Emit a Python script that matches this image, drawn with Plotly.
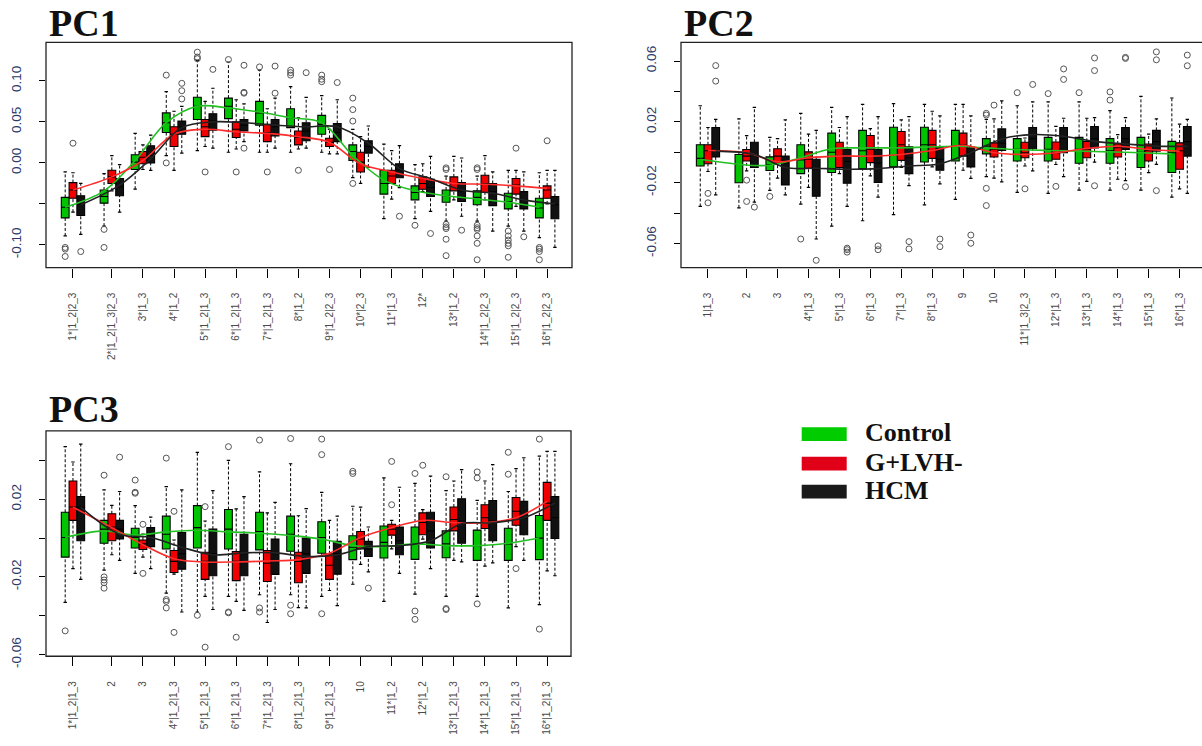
import plotly.graph_objects as go

# ---------------- tick labels ----------------
PC1_LABELS = ["1*|1_2|2_3", "2*|1_2|1_3|2_3", "3*|1_3", "4*|1_2", "5*|1_2|1_3", "6*|1_2|1_3",
              "7*|1_2|1_3", "8*|1_2", "9*|1_2|2_3", "10*|2_3", "11*|1_3", "12*", "13*|1_2",
              "14*|1_2|2_3", "15*|1_2|2_3", "16*|1_2|2_3"]
PC2_LABELS = ["1|1_3", "2", "3", "4*|1_3", "5*|1_3", "6*|1_3", "7*|1_3", "8*|1_3", "9", "10",
              "11*|1_3|2_3", "12*|1_3", "13*|1_3", "14*|1_3", "15*|1_3", "16*|1_3"]
PC3_LABELS = ["1*|1_2|1_3", "2", "3", "4*|1_2|1_3", "5*|1_2|1_3", "6*|1_2|1_3", "7*|1_2|1_3",
              "8*|1_2|1_3", "9*|1_2|1_3", "10", "11*|1_2", "12*|1_2", "13*|1_2|1_3",
              "14*|1_2|1_3", "15*|1_2|1_3", "16*|1_2|1_3"]

GROUPS = ["Control", "G+LVH-", "HCM"]

# ---------------- box stats: (lower whisker, q1, median, q3, upper whisker) ----------------
PC1_CONTROL = [(-0.089, -0.067, -0.054, -0.042, -0.011), (-0.077, -0.049, -0.041, -0.033, -0.013),
               (-0.032, -0.008, 0.001, 0.010, 0.036), (0.009, 0.037, 0.049, 0.061, 0.087),
               (0.015, 0.053, 0.069, 0.080, 0.125), (0.013, 0.054, 0.069, 0.079, 0.123),
               (0.013, 0.046, 0.061, 0.075, 0.113), (0.013, 0.043, 0.055, 0.066, 0.093),
               (0.013, 0.035, 0.047, 0.058, 0.082), (-0.018, 0.003, 0.014, 0.022, 0.041),
               (-0.068, -0.038, -0.025, -0.009, 0.023), (-0.068, -0.045, -0.036, -0.028, -0.002),
               (-0.071, -0.048, -0.040, -0.033, -0.016), (-0.071, -0.051, -0.042, -0.034, -0.016),
               (-0.077, -0.056, -0.047, -0.037, -0.009), (-0.091, -0.067, -0.055, -0.043, -0.012)]
PC1_GLVH = [(-0.060, -0.043, -0.033, -0.024, -0.012), (-0.034, -0.025, -0.017, -0.009, 0.009),
            (-0.008, -0.001, 0.007, 0.014, 0.022), (-0.009, 0.020, 0.035, 0.044, 0.063),
            (0.020, 0.032, 0.044, 0.053, 0.075), (0.017, 0.031, 0.041, 0.050, 0.077),
            (0.013, 0.026, 0.037, 0.047, 0.066), (0.017, 0.022, 0.031, 0.039, 0.055),
            (0.011, 0.020, 0.025, 0.030, 0.041), (-0.025, -0.011, 0.001, 0.013, 0.032),
            (-0.044, -0.025, -0.016, -0.009, 0.015), (-0.035, -0.032, -0.025, -0.017, -0.001),
            (-0.045, -0.034, -0.025, -0.017, 0.008), (-0.045, -0.036, -0.025, -0.015, 0.009),
            (-0.053, -0.038, -0.027, -0.019, -0.009), (-0.050, -0.043, -0.033, -0.028, -0.009)]
PC1_HCM = [(-0.087, -0.064, -0.050, -0.040, -0.025), (-0.060, -0.040, -0.029, -0.019, -0.002),
           (-0.009, 0.000, 0.009, 0.021, 0.034), (0.012, 0.035, 0.044, 0.051, 0.069),
           (0.018, 0.040, 0.051, 0.060, 0.091), (0.026, 0.039, 0.046, 0.053, 0.072),
           (0.018, 0.033, 0.044, 0.053, 0.079), (0.018, 0.027, 0.039, 0.049, 0.080),
           (0.011, 0.026, 0.037, 0.048, 0.077), (-0.005, 0.012, 0.020, 0.027, 0.045),
           (-0.030, -0.018, -0.009, -0.001, 0.021), (-0.059, -0.041, -0.030, -0.020, 0.008),
           (-0.065, -0.047, -0.034, -0.024, 0.006), (-0.083, -0.052, -0.035, -0.025, -0.011),
           (-0.083, -0.056, -0.045, -0.035, -0.011), (-0.103, -0.068, -0.051, -0.041, -0.009)]

PC1_CONTROL_OUT = [[-0.103, -0.105, -0.114], [-0.081, -0.103], [], [0.107, 0.0], [0.135, 0.129, 0.127],
                   [0.126], [0.117], [0.113, 0.110, 0.107], [0.107, 0.102, 0.099],
                   [0.079, 0.065, 0.051, -0.025], [], [-0.076],
                   [-0.006, -0.008, -0.075, -0.078, -0.080, -0.093, -0.113],
                   [-0.006, -0.008, -0.076, -0.079, -0.081, -0.089, -0.098, -0.118],
                   [-0.083, -0.089, -0.094, -0.098, -0.101, -0.115], [-0.103, -0.105, -0.108, -0.118]]
PC1_GLVH_OUT = [[0.024], [], [], [], [-0.011], [-0.011], [-0.011], [-0.009], [-0.008], [], [], [], [], [],
                [0.018], [0.027]]
PC1_HCM_OUT = [[-0.108], [], [], [0.097, 0.088, 0.078], [0.114], [0.119, 0.086, 0.085, 0.018],
               [0.118, 0.085], [0.110], [0.098], [], [-0.065], [-0.086], [-0.082], [], [-0.090], []]

PC1_CONTROL_LINE = [-0.054, -0.034, 0.003, 0.049, 0.069, 0.067, 0.062, 0.055, 0.049, 0.009, -0.021,
                    -0.034, -0.040, -0.044, -0.048, -0.054]
PC1_GLVH_LINE = [-0.033, -0.017, 0.003, 0.035, 0.041, 0.038, 0.036, 0.032, 0.025, -0.001, -0.011,
                 -0.019, -0.025, -0.026, -0.028, -0.031]
PC1_HCM_LINE = [-0.051, -0.027, 0.005, 0.043, 0.050, 0.049, 0.046, 0.044, 0.044, 0.024, -0.007,
                -0.019, -0.033, -0.037, -0.045, -0.050]

PC2_CONTROL = [(-0.0356, -0.009, -0.004, 0.005, 0.0306), (-0.0365, -0.020, -0.008, -0.0014, 0.022),
               (-0.025, -0.012, -0.008, -0.003, 0.0098), (-0.034, -0.014, -0.005, 0.005, 0.0256),
               (-0.0485, -0.0133, 0.0, 0.0126, 0.0295), (-0.045, -0.0107, 0.001, 0.0144, 0.0315),
               (-0.041, -0.0096, 0.003, 0.0165, 0.032), (-0.0345, -0.0064, 0.005, 0.0165, 0.0315),
               (-0.031, -0.0057, 0.004, 0.0144, 0.0315), (-0.016, -0.001, 0.004, 0.009, 0.0217),
               (-0.0263, -0.0057, 0.002, 0.009, 0.0306), (-0.027, -0.0057, 0.002, 0.0098, 0.0332),
               (-0.0248, -0.0072, 0.002, 0.0098, 0.0332), (-0.0248, -0.0072, 0.001, 0.009, 0.0274),
               (-0.0248, -0.010, 0.0, 0.0098, 0.0368), (-0.0295, -0.0133, -0.0003, 0.0072, 0.0357)]
PC2_GLVH = [(-0.0126, -0.0075, 0.001, 0.005, 0.0163), (-0.0122, -0.0057, -0.0025, 0.0018, 0.011),
            (-0.017, -0.0075, -0.0025, 0.0023, 0.009), (-0.023, -0.0105, -0.0046, 0.0003, 0.012),
            (-0.014, -0.010, -0.0025, 0.0066, 0.0163), (-0.0155, -0.0068, 0.002, 0.011, 0.0155),
            (-0.010, -0.0053, 0.005, 0.0137, 0.0213), (-0.0096, -0.004, 0.005, 0.0144, 0.027),
            (-0.0118, -0.0025, 0.005, 0.0126, 0.0315), (-0.017, -0.0031, 0.002, 0.0062, 0.022),
            (-0.009, -0.0036, -0.0003, 0.0066, 0.0094), (-0.008, -0.0046, -0.0003, 0.0068, 0.017),
            (-0.0191, -0.0036, 0.002, 0.0072, 0.0224), (-0.0177, -0.0031, 0.003, 0.0055, 0.0116),
            (-0.0133, -0.0057, 0.001, 0.0055, 0.012), (-0.024, -0.0111, 0.001, 0.0062, 0.0185)]
PC2_HCM = [(-0.028, -0.0031, 0.001, 0.0163, 0.0217), (-0.0328, -0.010, -0.0014, 0.0066, 0.0295),
           (-0.028, -0.0215, -0.007, -0.0025, 0.0213), (-0.057, -0.0289, -0.011, -0.0046, 0.0144),
           (-0.0356, -0.0203, -0.006, 0.0018, 0.0234), (-0.0295, -0.0198, -0.007, 0.0018, 0.0234),
           (-0.0219, -0.014, -0.0036, 0.0036, 0.0234), (-0.0208, -0.0118, -0.0046, 0.003, 0.0239),
           (-0.0172, -0.0096, -0.0003, 0.0034, 0.0239), (-0.0194, 0.0012, 0.006, 0.0154, 0.0338),
           (-0.0122, 0.0023, 0.009, 0.0163, 0.0332), (-0.016, -0.0003, 0.009, 0.0163, 0.0224),
           (-0.0064, 0.0029, 0.009, 0.017, 0.0228), (-0.0186, 0.0018, 0.009, 0.0163, 0.0228),
           (-0.0079, 0.0008, 0.007, 0.0144, 0.022), (-0.027, -0.0025, 0.007, 0.017, 0.0217)]

PC2_CONTROL_OUT = [[], [], [-0.029], [-0.057], [], [], [], [], [], [0.0256, 0.0245, -0.0237, -0.035],
                   [0.0392], [0.0386], [0.0392], [0.0397, 0.0343], [], []]
PC2_GLVH_OUT = [[-0.027, -0.0332], [-0.0183, -0.0323], [], [], [], [], [], [], [], [0.031],
                [-0.024], [-0.0224], [], [], [], []]
PC2_HCM_OUT = [[0.057, 0.0468], [-0.036], [], [-0.071], [-0.063, -0.064, -0.0656], [-0.0615, -0.064],
               [-0.0587, -0.0635], [-0.057, -0.062], [-0.0544, -0.0598], [], [0.0446], [0.0548, 0.0479],
               [0.062, 0.0537, -0.022], [0.0624, 0.0617, -0.0226], [0.066, 0.0608, -0.0252],
               [0.0639, 0.0569]]

PC2_CONTROL_LINE = [-0.0046, -0.0079, -0.0085, -0.0036, 0.0023, 0.0029, 0.0029, 0.0034, 0.004, 0.0029,
                    0.0018, 0.0012, 0.0008, 0.0003, -0.0003, -0.001]
PC2_GLVH_LINE = [0.0012, -0.0003, -0.0062, -0.0036, -0.0025, -0.0025, -0.0014, 0.0012, 0.0046, -0.0003,
                 -0.0014, -0.0003, 0.0025, 0.004, 0.0018, 0.0008]
PC2_HCM_LINE = [0.0008, -0.0014, -0.010, -0.0105, -0.0111, -0.0107, -0.009, -0.0075, -0.0003, 0.0088,
                0.0116, 0.0105, 0.0072, 0.0055, 0.004, 0.004]

PC3_CONTROL = [(-0.0331, -0.0098, 0.0003, 0.0133, 0.0471), (-0.0165, -0.0027, 0.0046, 0.0091, 0.0248),
               (-0.0182, -0.0051, 0.0003, 0.0051, 0.0167), (-0.0284, -0.0056, 0.002, 0.0113, 0.0265),
               (-0.0381, -0.0051, 0.0054, 0.0167, 0.0442), (-0.030, -0.0056, 0.0046, 0.0147, 0.040),
               (-0.0292, -0.0061, 0.0034, 0.0133, 0.0341), (-0.0292, -0.0068, 0.002, 0.0113, 0.0383),
               (-0.030, -0.0078, 0.0003, 0.0084, 0.0235), (-0.0238, -0.0111, -0.0047, 0.0012, 0.0164),
               (-0.0326, -0.0103, -0.0022, 0.0062, 0.031), (-0.0289, -0.011, -0.003, 0.0057, 0.0282),
               (-0.030, -0.0101, -0.003, 0.0037, 0.0245), (-0.030, -0.0115, -0.0039, 0.0041, 0.0194),
               (-0.036, -0.0115, -0.003, 0.0051, 0.024), (-0.0343, -0.0111, 0.0, 0.0116, 0.0422)]
PC3_GLVH = [(-0.0157, 0.0091, 0.016, 0.0294, 0.0392), (-0.0086, -0.0014, 0.0057, 0.0125, 0.0169),
            (-0.0098, -0.0059, -0.003, -0.001, 0.002), (-0.0186, -0.0177, -0.012, -0.0064, -0.001),
            (-0.030, -0.0213, -0.012, -0.0073, 0.0088), (-0.0326, -0.0219, -0.012, -0.0069, 0.015),
            (-0.0435, -0.0224, -0.013, -0.0064, 0.013), (-0.0358, -0.023, -0.012, -0.0073, 0.0115),
            (-0.027, -0.0213, -0.014, -0.0081, 0.0091), (-0.0135, -0.0056, -0.0005, 0.0034, 0.0159),
            (-0.0056, 0.0015, 0.0046, 0.0071, 0.0091), (-0.0005, 0.0017, 0.008, 0.013, 0.0147),
            (-0.0115, 0.0037, 0.0096, 0.016, 0.0294), (-0.0145, 0.0049, 0.0105, 0.0172, 0.0294),
            (-0.0044, 0.0066, 0.0138, 0.0209, 0.0358), (-0.0169, 0.0091, 0.018, 0.0287, 0.0447)]
PC3_HCM = [(-0.0213, -0.0014, 0.016, 0.0214, 0.0484), (-0.0115, -0.0005, 0.0046, 0.0091, 0.024),
           (-0.0157, -0.0044, 0.0012, 0.0054, 0.0108), (-0.0381, -0.016, -0.008, 0.0029, 0.0248),
           (-0.0368, -0.0194, -0.008, 0.0046, 0.0245), (-0.0373, -0.0194, -0.008, 0.002, 0.0214),
           (-0.0368, -0.0187, -0.008, -0.0005, 0.0184), (-0.036, -0.0182, -0.008, 0.0, 0.0152),
           (-0.0348, -0.0186, -0.008, -0.0017, 0.0113), (-0.0174, -0.0095, -0.0056, -0.0017, 0.0057),
           (-0.0182, -0.0086, -0.0014, 0.0057, 0.0262), (-0.0157, -0.0051, 0.0037, 0.0133, 0.0319),
           (-0.0123, -0.0027, 0.0088, 0.0203, 0.0353), (-0.0128, -0.0014, 0.0088, 0.0194, 0.0378),
           (-0.0115, 0.0017, 0.0105, 0.0189, 0.0414), (-0.0194, -0.0002, 0.0105, 0.0214, 0.0447)]

PC3_CONTROL_OUT = [[-0.0478], [0.0324, -0.020, -0.0216, -0.023, -0.0258], [0.0299, 0.0236, 0.0231],
                   [0.0412, -0.0317, -0.0326, -0.036], [-0.0398], [0.0471, -0.0381, -0.0385],
                   [0.0505, -0.036, -0.0381], [0.0513, -0.0346, -0.039], [0.051, 0.043, -0.039],
                   [0.0344, 0.0333], [], [0.0333, -0.0376, -0.0419], [0.0316, -0.0363, -0.0368],
                   [0.0341, 0.031, -0.0339], [0.0442, 0.0329], [0.051, -0.0469]]
PC3_GLVH_OUT = [[], [], [0.0071, -0.0182], [0.0138, -0.0486], [0.0162, -0.0562], [-0.0511], [], [], [],
                [], [0.0395, 0.0172], [0.0375], [], [], [-0.0157], []]
PC3_HCM_OUT = [[], [0.0417], [], [], [], [], [], [], [], [-0.0258], [], [], [], [], [], []]

PC3_CONTROL_LINE = [0.0003, 0.0037, 0.0015, 0.0032, 0.004, 0.0032, 0.0025, 0.0013, -0.0005, -0.0039,
                    -0.0044, -0.003, -0.0039, -0.0039, -0.0027, 0.0]
PC3_GLVH_LINE = [0.0159, 0.0054, -0.0034, -0.0106, -0.0123, -0.0123, -0.0118, -0.0111, -0.0078, 0.0003,
                 0.0054, 0.0091, 0.0079, 0.0079, 0.0105, 0.0189]
PC3_HCM_LINE = [0.0159, 0.002, 0.0003, -0.0047, -0.0086, -0.0076, -0.0076, -0.0095, -0.0086, -0.0044,
                -0.0039, -0.0014, 0.0074, 0.0079, 0.0105, 0.018]

# ---------------- styling ----------------
W, H = 1202, 746
FILL = ["#00c400", "#f00000", "#111111"]
LINE_COL = ["#22c022", "#ff2a2a", "#222222"]
OFFSETS = [-1, 0, 1]
CENTERS = [0] + [5 + 4 * k for k in range(15)]
BOXW = 1.0
STAPLE = 0.22

fig = go.Figure()


def add_panel(axn, stats, outs, lines):
    xa = "x" if axn == 1 else f"x{axn}"
    ya = "y" if axn == 1 else f"y{axn}"
    for g in range(3):
        xs = [c + OFFSETS[g] for c in CENTERS]
        st = stats[g]
        lo = [s[0] for s in st]; q1 = [s[1] for s in st]; md = [s[2] for s in st]
        q3 = [s[3] for s in st]; hi = [s[4] for s in st]
        wx, wy, sx, sy = [], [], [], []
        for x, a, b, c, d in zip(xs, lo, q1, q3, hi):
            wx += [x, x, None, x, x, None]
            wy += [a, b, None, c, d, None]
            sx += [x - STAPLE, x + STAPLE, None, x - STAPLE, x + STAPLE, None]
            sy += [a, a, None, d, d, None]
        fig.add_trace(go.Scatter(x=wx, y=wy, mode="lines", xaxis=xa, yaxis=ya, showlegend=False,
                                 line=dict(color="black", width=1, dash="3px,2px"), hoverinfo="skip"))
        fig.add_trace(go.Scatter(x=sx, y=sy, mode="lines", xaxis=xa, yaxis=ya, showlegend=False,
                                 line=dict(color="black", width=1.2), hoverinfo="skip"))
        fig.add_trace(go.Box(x=xs, q1=q1, median=md, q3=q3, lowerfence=q1, upperfence=q3,
                             xaxis=xa, yaxis=ya, name=GROUPS[g], showlegend=False, width=BOXW,
                             fillcolor=FILL[g], line=dict(color="black", width=1.1),
                             whiskerwidth=0, boxpoints=False, hoverinfo="skip"))
        ox, oy = [], []
        for x, ol in zip(xs, outs[g]):
            for v in ol:
                ox.append(x); oy.append(v)
        fig.add_trace(go.Scatter(x=ox, y=oy, mode="markers", xaxis=xa, yaxis=ya, showlegend=False,
                                 marker=dict(symbol="circle-open", size=6, color="#555555",
                                             line=dict(width=1)), hoverinfo="skip"))
    for g in range(3):
        xs = [c + OFFSETS[g] for c in CENTERS]
        fig.add_trace(go.Scatter(x=xs, y=lines[g], mode="lines", xaxis=xa, yaxis=ya, showlegend=False,
                                 line=dict(color=LINE_COL[g], width=1.6, shape="spline", smoothing=1),
                                 hoverinfo="skip"))


add_panel(1, [PC1_CONTROL, PC1_GLVH, PC1_HCM], [PC1_CONTROL_OUT, PC1_GLVH_OUT, PC1_HCM_OUT],
          [PC1_CONTROL_LINE, PC1_GLVH_LINE, PC1_HCM_LINE])
add_panel(2, [PC2_CONTROL, PC2_GLVH, PC2_HCM], [PC2_CONTROL_OUT, PC2_GLVH_OUT, PC2_HCM_OUT],
          [PC2_CONTROL_LINE, PC2_GLVH_LINE, PC2_HCM_LINE])
add_panel(3, [PC3_CONTROL, PC3_GLVH, PC3_HCM], [PC3_CONTROL_OUT, PC3_GLVH_OUT, PC3_HCM_OUT],
          [PC3_CONTROL_LINE, PC3_GLVH_LINE, PC3_HCM_LINE])


def dx(a, b):
    return [a / W, b / W]


def dy(top, bottom):
    return [1 - bottom / H, 1 - top / H]


XT = dict(tickmode="array", tickvals=CENTERS, ticks="outside", ticklen=9, tickcolor="black",
          tickwidth=1, tickangle=-90, showgrid=False, zeroline=False, showline=False,
          tickfont=dict(family="Liberation Sans, Arial", size=10, color="#4a4a4a"),
          ticklabelstandoff=11)
YT = dict(tickmode="array", ticks="outside", ticklen=6, tickcolor="black", tickwidth=1,
          tickangle=-90, showgrid=False, zeroline=False, showline=False,
          tickfont=dict(family="Liberation Sans, Arial", size=13.5, color="#2b3a67"),
          ticklabelstandoff=13)

fig.update_layout(
    width=W, height=H, margin=dict(l=0, r=0, t=0, b=0),
    paper_bgcolor="white", plot_bgcolor="white", boxmode="overlay", showlegend=False,
    xaxis=dict(XT, domain=dx(46, 572), range=[-3.47, 64.2], ticktext=PC1_LABELS, anchor="y"),
    yaxis=dict(YT, domain=dy(43, 272), range=[-0.1276, 0.147], anchor="x",
               tickvals=[-0.10, -0.05, 0.0, 0.05, 0.10],
               ticktext=["-0.10", "", "0.00", "0.05", "0.10"]),
    xaxis2=dict(XT, domain=dx(681, 1202), range=[-3.49, 63.9], ticktext=PC2_LABELS, anchor="y2"),
    yaxis2=dict(YT, domain=dy(43, 272), range=[-0.0758, 0.0723], anchor="x2",
                tickvals=[-0.06, -0.04, -0.02, 0.0, 0.02, 0.04, 0.06],
                ticktext=["-0.06", "", "-0.02", "", "0.02", "", "0.06"]),
    xaxis3=dict(XT, domain=dx(46, 571), range=[-3.47, 64.07], ticktext=PC3_LABELS, anchor="y3"),
    yaxis3=dict(YT, domain=dy(438, 667), range=[-0.0609, 0.0552], anchor="x3",
                tickvals=[-0.06, -0.04, -0.02, 0.0, 0.02, 0.04],
                ticktext=["-0.06", "", "-0.02", "", "0.02", ""]),
)

# plot frames
for xr, yr, x1 in [("x domain", "y domain", 1), ("x2 domain", "y2 domain", 1.05),
                   ("x3 domain", "y3 domain", 1)]:
    fig.add_shape(type="rect", xref=xr, yref=yr, x0=0, x1=x1, y0=0, y1=1,
                  line=dict(color="#222", width=1.3), fillcolor="rgba(0,0,0,0)", layer="above")

# panel titles
TFONT = dict(family="Liberation Serif, Times New Roman, serif", size=38, color="#111")
for txt, xp, yp in [("PC1", 47, 23.5), ("PC2", 682, 23.5), ("PC3", 47, 416)]:
    fig.add_annotation(text=f"<b>{txt}</b>", xref="paper", yref="paper", x=xp / W, y=1 - yp / H,
                       xanchor="left", yanchor="middle", showarrow=False, font=TFONT)

# legend
LFONT = dict(family="Liberation Serif, Times New Roman, serif", size=26, color="#111")
LEG_FILL = ["#00cc00", "#e00018", "#1a1a1a"]
for i, (name, top, base) in enumerate([(GROUPS[0], 434.3, 448.3), (GROUPS[1], 464.3, 478.3),
                                       (GROUPS[2], 492.7, 507.7)]):
    fig.add_shape(type="rect", xref="paper", yref="paper", x0=801.7 / W, x1=846.7 / W,
                  y0=1 - (top + 14) / H, y1=1 - top / H, line=dict(width=0), fillcolor=LEG_FILL[i])
    fig.add_annotation(text=f"<b>{name}</b>", xref="paper", yref="paper", x=863 / W,
                       y=1 - (base - 8.7) / H, xanchor="left", yanchor="middle", showarrow=False,
                       font=LFONT)

fig.write_html("out.html")
